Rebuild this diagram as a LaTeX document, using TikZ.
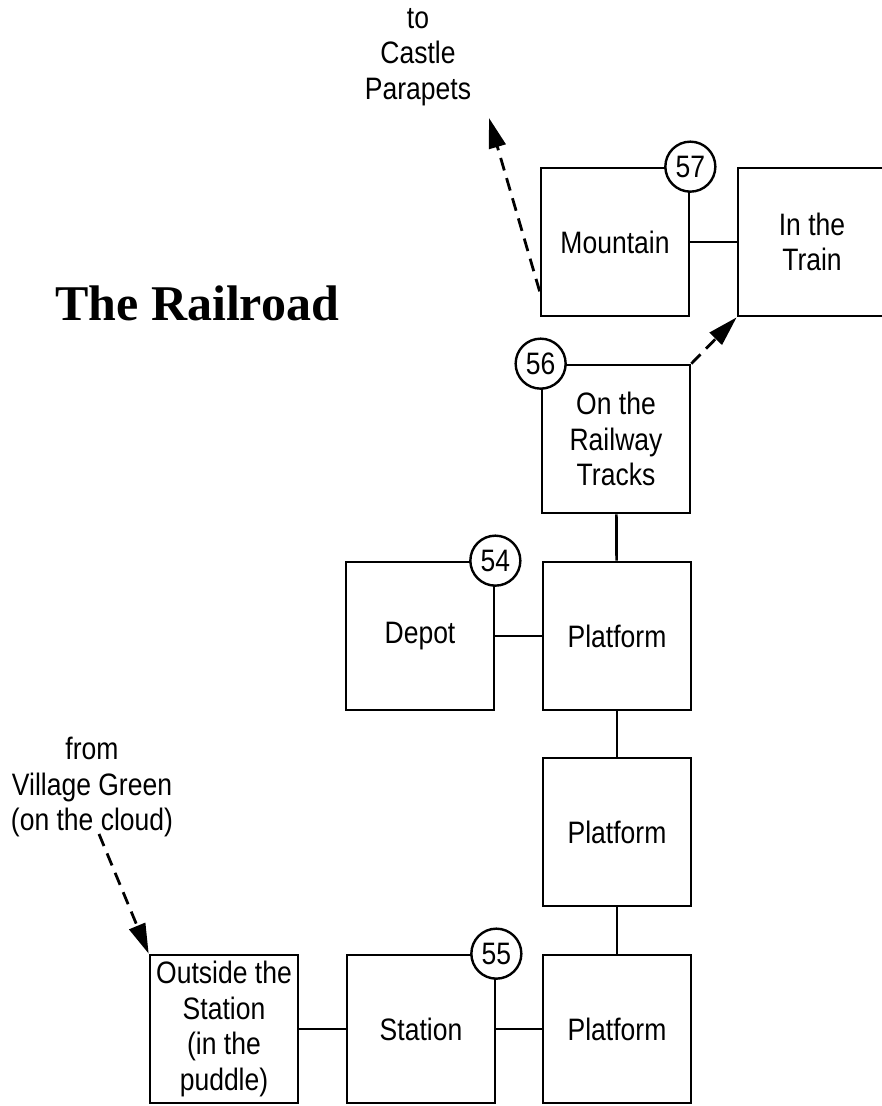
\documentclass[tikz,border=0pt]{standalone}
\usepackage{fontspec}
\setmainfont[FakeStretch=0.855]{Liberation Sans}
\newfontfamily\titlefont{Liberation Serif}
\usetikzlibrary{arrows.meta,calc}

\tikzset{
  room/.style={draw, line width=2.7pt, minimum width=148pt, minimum height=148pt,
    inner sep=0pt, align=center, font=\fontsize{31}{35.5}\selectfont},
  num/.style={draw, circle, fill=white, line width=2.4pt, minimum size=50pt,
    inner sep=0pt, font=\fontsize{31}{35.5}\selectfont},
  link/.style={line width=2.7pt},
  jump/.style={line width=2.8pt, dash pattern=on 13pt off 8pt,
    -{Triangle[length=30pt,width=17pt]}},
  lbl/.style={align=center, font=\fontsize{31}{35.5}\selectfont, inner sep=0pt},
}

\begin{document}
\begin{tikzpicture}[x=1pt,y=-1pt]
\useasboundingbox (0,0) rectangle (882,1106);

% rooms
\node[room] (mountain) at (615,242) {Mountain};
\node[room] (train)    at (812,242) {In the\\Train};
\node[room] (tracks)   at (616,439) {On the\\Railway\\Tracks};
\node[room] (depot)    at (420,636) {Depot};
\node[room] (plat1)    at (617,636) {Platform};
\node[room] (plat2)    at (617,832) {Platform};
\node[room] (plat3)    at (617,1029) {Platform};
\node[room] (station)  at (421,1029) {Station};
\node[room] (outside)  at (224,1029) {Outside the\\Station\\(in the\\puddle)};

% solid connections
\draw[link] (mountain) -- (train);
\draw[link] (tracks) -- (plat1);
\draw[link] (depot) -- (plat1);
\draw[link] (plat1) -- (plat2);
\draw[link] (plat2) -- (plat3);
\draw[link] (outside) -- (station);
\draw[link] (station) -- (plat3);

% number circles
\node[num] (n57) at (mountain.north east) {57};
\node[num] (n56) at (tracks.north west) {56};
\node[num] (n54) at (depot.north east) {54};
\node[num] (n55) at (station.north east) {55};

% title
\node[anchor=base west, inner sep=0pt,
      font=\titlefont\bfseries\fontsize{50}{60}\selectfont] (title) at (55,320) {The Railroad};

% labels
\node[lbl] (castle) at (418,57) {to\\Castle\\Parapets};
\node[lbl] (village) at (92,787) {from\\Village Green\\(on the cloud)};

% dashed exits
\coordinate (mstart) at ($(mountain.south west)+(0,-26)$);
\coordinate (ctip) at (489,118);
\draw[jump] (mstart) -- (ctip);

\draw[jump] (tracks.north east) -- (train.south west);

\coordinate (vstart) at (99,834);
\draw[jump] (vstart) -- (outside.north west);
\end{tikzpicture}
\end{document}
